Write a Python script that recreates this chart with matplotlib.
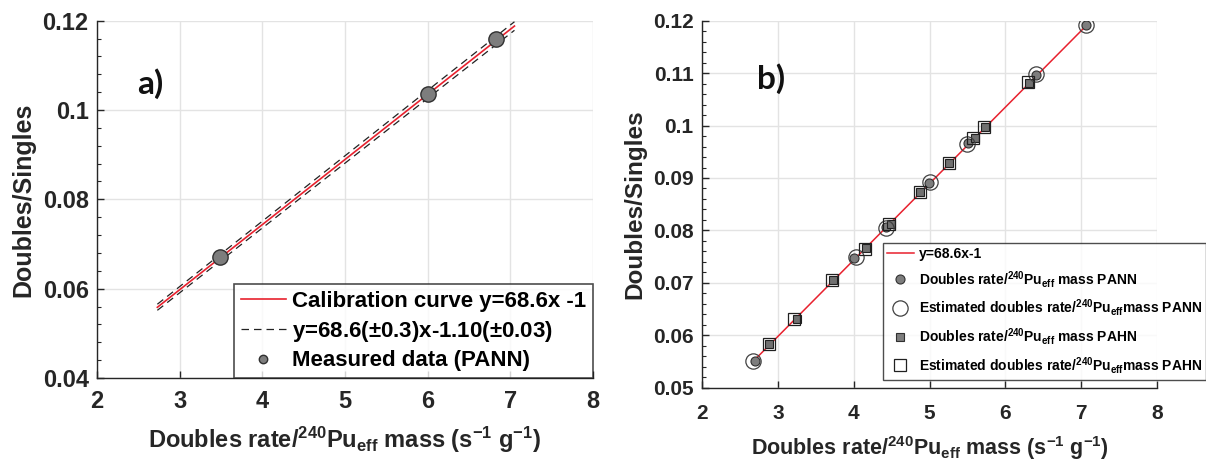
import numpy as np
import matplotlib
matplotlib.use("Agg")
import matplotlib.pyplot as plt
from matplotlib.lines import Line2D
from matplotlib.ticker import MultipleLocator

plt.rcParams['font.family'] = ['Liberation Sans', 'DejaVu Sans']
plt.rcParams['font.weight'] = 'bold'
plt.rcParams['axes.labelweight'] = 'bold'
plt.rcParams['mathtext.fontset'] = 'custom'
plt.rcParams['mathtext.rm'] = 'Liberation Sans:bold'
plt.rcParams['mathtext.bf'] = 'Liberation Sans:bold'
plt.rcParams['mathtext.it'] = 'Liberation Sans:bold'

# calibration fit: x = slope*y - intercept  ->  y = (x + intercept)/slope
slope, slope_err = 68.6, 0.3
intercept, intercept_err = 1.10, 0.03
line_x = [2.73, 7.05]

# a) measured PANN points
meas_x = [3.49, 6.01, 6.83]
meas_y = [0.0671, 0.1035, 0.1159]

# b) PANN and PAHN points
pann_x = [2.70, 4.01, 4.42, 4.99, 5.51, 6.40, 7.07]
pann_y = [0.0551, 0.0748, 0.0807, 0.0891, 0.0966, 0.1097, 0.1191]
pann_est_x = [2.67, 4.03, 4.42, 5.00, 5.50, 6.41, 7.06]
pann_est_y = [0.0551, 0.0750, 0.0805, 0.0892, 0.0965, 0.1098, 0.1192]
pahn_x = [2.89, 3.25, 3.73, 4.16, 4.49, 4.88, 5.26, 5.60, 5.73, 6.31]
pahn_y = [0.0583, 0.0631, 0.0705, 0.0766, 0.0813, 0.0873, 0.0928, 0.0977, 0.0997, 0.1082]
pahn_est_x = [2.88, 3.21, 3.72, 4.15, 4.46, 4.87, 5.26, 5.58, 5.72, 6.30]
pahn_est_y = [0.0583, 0.0631, 0.0706, 0.0765, 0.0812, 0.0874, 0.0928, 0.0976, 0.0998, 0.1083]

yticks_a = [0.04, 0.06, 0.08, 0.1, 0.12]
yticks_b = [0.05, 0.06, 0.07, 0.08, 0.09, 0.1, 0.11, 0.12]

xlabel = r"Doubles rate/$^{240}$Pu$_{\rm eff}$ mass (s$^{-1}$ g$^{-1}$)"
ink = '#262626'

fig = plt.figure(figsize=(12.06, 4.62), dpi=100)
axa = fig.add_axes([97/1206, 1-378/462, 496/1206, 357.3/462])
axb = fig.add_axes([702/1206, 1-387.7/462, 455/1206, 367/462])

def style(ax, yticks, yminor, tsize, ysize, xsize, xpad):
    ax.set_xlim(2, 8)
    ax.set_ylim(yticks[0], yticks[-1])
    ax.xaxis.set_major_locator(MultipleLocator(1))
    ax.set_yticks(yticks)
    ax.set_yticklabels([f"{t:g}" for t in yticks])
    ax.yaxis.set_minor_locator(MultipleLocator(yminor))
    ax.grid(True, color='#e3e3e3', linewidth=1.0)
    ax.set_axisbelow(True)
    for s in ['top', 'right']:
        ax.spines[s].set_visible(False)
    for s in ['left', 'bottom']:
        ax.spines[s].set_color(ink)
        ax.spines[s].set_linewidth(1.0)
    ax.tick_params(direction='in', length=5, width=1, color=ink, labelsize=tsize,
                   labelcolor=ink)
    ax.tick_params(axis='x', pad=xpad)
    ax.tick_params(axis='y', pad=6)
    ax.tick_params(which='minor', direction='in', length=3, width=0.8, color=ink)
    ax.tick_params(axis='x', which='minor', bottom=False)
    for lab in ax.get_xticklabels() + ax.get_yticklabels():
        lab.set_fontweight('bold')
    ax.set_ylabel("Doubles/Singles", fontsize=ysize, color=ink, fontweight='bold', labelpad=5)
    ax.set_xlabel(xlabel, fontsize=xsize, color=ink, fontweight='bold', labelpad=8)

# ---- a)
xs = np.array(line_x)
axa.plot(xs, (xs + intercept) / slope, color='#e8212e', lw=1.2, label="Calibration curve y=68.6x -1", zorder=3)
axa.plot(xs, (xs + intercept + intercept_err) / (slope - slope_err), color='#222222', lw=0.9,
         ls=(0, (6, 4)), label=r"y=68.6($\pm$0.3)x-1.10($\pm$0.03)", zorder=2)
axa.plot(xs, (xs + intercept - intercept_err) / (slope + slope_err), color='#222222', lw=0.9,
         ls=(0, (6, 4)), zorder=2)
axa.plot(meas_x, meas_y, 'o', ms=11, mfc='#7d7d7d', mec='#303030', mew=1.0,
         label="Measured data (PANN)", zorder=4)
style(axa, yticks_a, 0.004, 17, 18, 17, 9)
leg = axa.legend(loc='lower right', bbox_to_anchor=(1, 0), borderaxespad=0, fontsize=16,
                 frameon=True, fancybox=False, edgecolor='#202020', handlelength=2.0,
                 handletextpad=0.3, labelspacing=0.3, borderpad=0.3, markerscale=0.55)
leg.get_frame().set_linewidth(1.2)
axa.text(0.08, 0.795, "a)", transform=axa.transAxes, fontsize=24, fontweight='bold',
         family='Lato', color='#111111')

# ---- b)
axb.plot(xs, (xs + intercept) / slope, color='#e8212e', lw=1.1, zorder=3)
axb.plot(pann_x, pann_y, 'o', ms=6.5, mfc='#7d7d7d', mec='#303030', mew=0.8, zorder=4)
axb.plot(pann_est_x, pann_est_y, 'o', ms=11, mfc='none', mec='#404040', mew=0.9, zorder=5)
axb.plot(pahn_x, pahn_y, 's', ms=6, mfc='#707070', mec='#202020', mew=0.8, zorder=4)
axb.plot(pahn_est_x, pahn_est_y, 's', ms=8, mfc='none', mec='#202020', mew=0.9, zorder=5)
style(axb, yticks_b, 0.002, 15, 17.5, 15.5, 12)
axb.text(0.12, 0.815, "b)", transform=axb.transAxes, fontsize=24, fontweight='bold',
         family='Lato', color='#111111')

handles = [
    Line2D([], [], color='#e8212e', lw=1.1),
    Line2D([], [], ls='none', marker='o', ms=6.5, mfc='#7d7d7d', mec='#303030', mew=0.8),
    Line2D([], [], ls='none', marker='o', ms=11, mfc='none', mec='#404040', mew=0.9),
    Line2D([], [], ls='none', marker='s', ms=5.5, mfc='#7d7d7d', mec='#303030', mew=0.8),
    Line2D([], [], ls='none', marker='s', ms=8, mfc='none', mec='#202020', mew=0.9),
]
labels = [
    "y=68.6x-1",
    r"Doubles rate/$^{240}$Pu$_{\rm eff}$ mass PANN",
    r"Estimated doubles rate/$^{240}$Pu$_{\rm eff}$mass PANN",
    r"Doubles rate/$^{240}$Pu$_{\rm eff}$ mass PAHN",
    r"Estimated doubles rate/$^{240}$Pu$_{\rm eff}$mass PAHN",
]
legb = fig.legend(handles, labels, loc='upper left', bbox_to_anchor=(876/1206, 1-236/462),
                  fontsize=10, frameon=True, fancybox=False, edgecolor='#202020',
                  handlelength=1.9, handletextpad=0.4, labelspacing=0.55, borderpad=0.3)
legb.get_frame().set_linewidth(1.0)

fig.savefig("out.png", dpi=100)
